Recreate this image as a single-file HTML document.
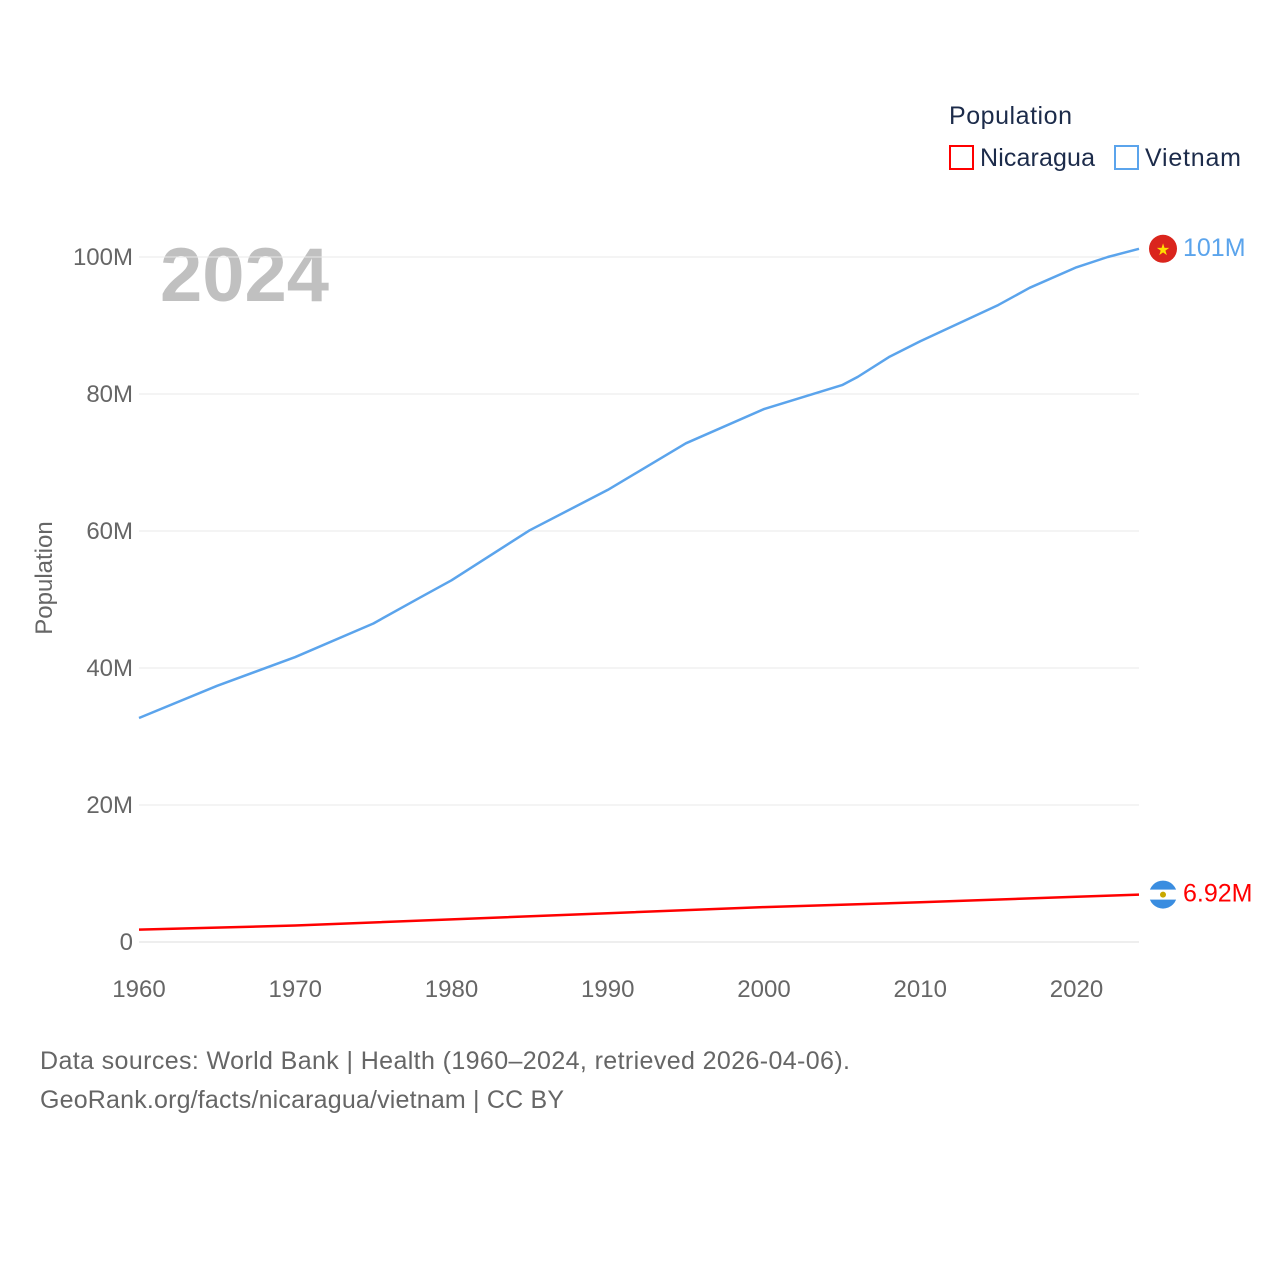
<!DOCTYPE html>
<html><head><meta charset="utf-8"><style>
body{margin:0;background:#fff;width:1280px;height:1280px;overflow:hidden;font-family:"Liberation Sans",sans-serif}
svg{display:block}
</style></head><body>
<svg id="chart" width="1280" height="1280">
<text x="949" y="124" font-size="25" fill="#1c2b4a" textLength="123">Population</text>
<g><rect x="950" y="146" width="23" height="23" fill="none" stroke="#ff0000" stroke-width="2"/><text x="980" y="166" font-size="25" fill="#1c2b4a" textLength="115">Nicaragua</text></g>
<g><rect x="1115" y="146" width="23" height="23" fill="none" stroke="#5ba4ec" stroke-width="2"/><text x="1145" y="166" font-size="25" fill="#1c2b4a" textLength="96">Vietnam</text></g>
<text x="160" y="301" font-size="76" font-weight="bold" fill="#c0c0c0">2024</text>
<text transform="translate(52,578) rotate(-90)" text-anchor="middle" font-size="24" fill="#666">Population</text>
<g id="grid"></g><g id="lines"></g><g id="labels"></g>
<text x="40" y="1069" font-size="25" fill="#666" textLength="810">Data sources: World Bank | Health (1960–2024, retrieved 2026-04-06).</text>
<text x="40" y="1108" font-size="25" fill="#666" textLength="524">GeoRank.org/facts/nicaragua/vietnam | CC BY</text>
</svg>
<script>
const years=[1960,1965,1970,1975,1978,1980,1985,1990,1995,2000,2005,2006,2008,2010,2015,2017,2020,2022,2024];
const vietnam=[32.7,37.4,41.6,46.5,50.3,52.8,60.1,66.0,72.8,77.8,81.3,82.5,85.4,87.7,93.0,95.5,98.5,100.0,101.2];
const nicYears=[1960,1970,1980,1990,2000,2010,2020,2024];
const nicaragua=[1.8,2.4,3.3,4.2,5.1,5.8,6.6,6.92];
const yTicks=[0,20,40,60,80,100];
const yTickLabels=["0","20M","40M","60M","80M","100M"];
const xTicks=[1960,1970,1980,1990,2000,2010,2020];
const NS="http://www.w3.org/2000/svg";
const x=v=>139+(v-1960)*15.625;
const y=v=>942-v*6.85;
function mk(tag,attrs,parent,txt){const e=document.createElementNS(NS,tag);for(const k in attrs)e.setAttribute(k,attrs[k]);if(txt!==undefined)e.textContent=txt;document.getElementById(parent).appendChild(e);return e;}
yTicks.forEach((t,i)=>{
 const l=mk('line',{x1:139,x2:1139,y1:y(t),y2:y(t),stroke:i==0?'#ddd':'#e8e8e8','stroke-width':1},'grid');
 
 
 const tx=mk('text',{x:133,y:y(t)+8,'text-anchor':'end','font-size':24,fill:'#666'},'grid',yTickLabels[i]);
 
 
});
xTicks.forEach(t=>{
 const tx=mk('text',{x:x(t),y:997,'text-anchor':'middle','font-size':24,fill:'#666'},'grid',t);
 
 
});
const pv=mk('polyline',{points:years.map((yr,i)=>x(yr)+','+y(vietnam[i])).join(' '),fill:'none',stroke:'#5ba4ec','stroke-width':2.5,'stroke-linejoin':'round'},'lines');


const pn=mk('polyline',{points:nicYears.map((yr,i)=>x(yr)+','+y(nicaragua[i])).join(' '),fill:'none',stroke:'#ff0000','stroke-width':2.5},'lines');


const lv=vietnam[vietnam.length-1], ln=nicaragua[nicaragua.length-1];
const f1=mk('circle',{cx:1163,cy:y(lv),r:14,fill:'#da251d'},'labels');


mk('text',{x:1163,y:y(lv)+6,'text-anchor':'middle','font-size':16,fill:'#ffde00'},'labels','★');
const t1=mk('text',{x:1183,y:y(lv)+7,'font-size':25,fill:'#5ba4ec'},'labels',Math.round(lv)+'M');


const f2=mk('circle',{cx:1163,cy:y(ln),r:14,fill:'#3a8de0'},'labels');


mk('rect',{x:1149,y:y(ln)-5,width:28,height:10,fill:'#fff'},'labels');
mk('circle',{cx:1163,cy:y(ln),r:3,fill:'#c8a800'},'labels');
const t2=mk('text',{x:1183,y:y(ln)+7,'font-size':25,fill:'#ff0000'},'labels',ln.toFixed(2)+'M');


</script>
</body></html>
